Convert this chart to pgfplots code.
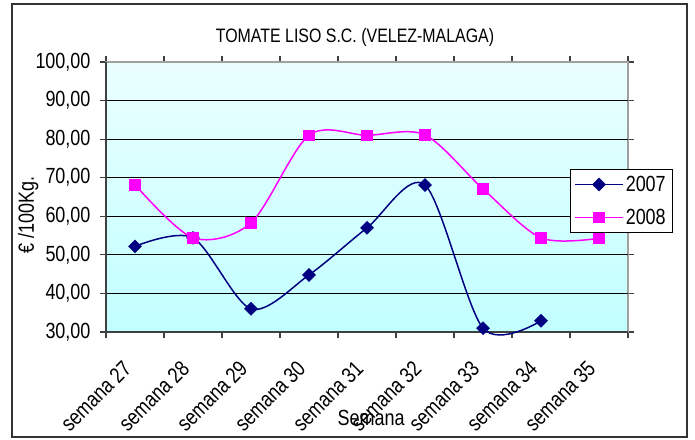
\documentclass[border=0pt]{standalone}
\usepackage{fontspec}
\setmainfont[FakeStretch=0.82]{Liberation Sans}
\usepackage{pgfplots}
\pgfplotsset{compat=1.18}

\definecolor{c2007}{HTML}{000080}
\definecolor{c2008}{HTML}{FF00FF}
\definecolor{bgtop}{HTML}{EAFFFF}
\definecolor{bgbot}{HTML}{C2FFFF}
\definecolor{boxgray}{HTML}{A0A0A0}
\definecolor{axdark}{HTML}{404040}

\newcommand{\chfont}{\fontsize{22}{26}\selectfont}

\begin{document}
\begin{tikzpicture}[x=1bp,y=1bp]
% page size = 695 x 440
\path[use as bounding box] (-106,-108) rectangle (589,332);
\draw[line width=2.2bp, draw=black!80] (-94,-105) rectangle (581,328);
\begin{axis}[
  at={(0,0)}, anchor=south west,
  scale only axis, width=522bp, height=270bp,
  xmin=26.5, xmax=35.5, ymin=30, ymax=100,
  clip=false,
  axis background/.style={top color=bgtop, bottom color=bgbot},
  axis line style={draw=boxgray, line width=1.5bp},
  tick align=outside, major tick length=6bp,
  tick style={draw=axdark, line width=1.2bp},
  xtick={26.5,27.5,...,35.5}, xticklabels={},
  extra x ticks={27,...,35},
  extra x tick labels={semana 27,semana 28,semana 29,semana 30,semana 31,semana 32,semana 33,semana 34,semana 35},
  extra x tick style={tick style={draw=none},
    xticklabel style={font=\chfont, inner sep=0pt, xshift=-13bp, yshift=-21bp, rotate=45, anchor=north east}},
  ytick={30,40,...,100},
  extra y ticks={40,50,...,90}, extra y tick labels={},
  extra y tick style={grid=major, tick style={draw=none}},
  grid style={draw=black, line width=1.2bp},
  yticklabel style={font=\chfont, xshift=-6bp, /pgf/number format/.cd, fixed, fixed zerofill, precision=2, use comma, assume math mode=true},
  title={TOMATE LISO S.C. (VELEZ-MALAGA)},
  title style={font=\fontsize{19.5}{22}\selectfont, at={(axis description cs:0.477,1.07)}, anchor=center},
  xlabel={Semana},
  xlabel style={font=\chfont, at={(axis description cs:0.508,-0.319)}, anchor=center},
  ylabel={€ /100Kg.},
  ylabel style={font=\chfont, at={(axis description cs:-0.149,0.433)}, anchor=center, rotate=0},
  legend style={at={(0.889,0.604)}, anchor=north west, draw=black, fill=white,
    font=\chfont, inner xsep=4bp, inner ysep=5bp, row sep=12bp},
  legend cell align=left,
  legend image code/.code={\draw[mark repeat=2, mark phase=2] plot coordinates {(0bp,0bp) (24bp,0bp) (48bp,0bp)};},
]
\draw[draw=axdark, line width=1.5bp] (rel axis cs:0,1) -- (rel axis cs:0,0) -- (rel axis cs:1,0);

\addplot[smooth, color=c2007, line width=1.5bp, mark=square*, mark size=4.6bp,
  mark options={solid, rotate=45, fill=c2007, line width=0.5bp}]
  coordinates {(27,52.2) (28,54.4) (29,36.0) (30,44.8) (31,57.0) (32,68.1) (33,31.0) (34,32.9)};
\addlegendentry{2007}
\addplot[smooth, color=c2008, line width=1.5bp, mark=square*, mark size=5.3bp,
  mark options={solid, fill=c2008, line width=0.5bp}]
  coordinates {(27,68.2) (28,54.4) (29,58.3) (30,81.0) (31,81.0) (32,81.1) (33,67.1) (34,54.4) (35,54.3)};
\addlegendentry{2008}
\end{axis}
\end{tikzpicture}
\end{document}
